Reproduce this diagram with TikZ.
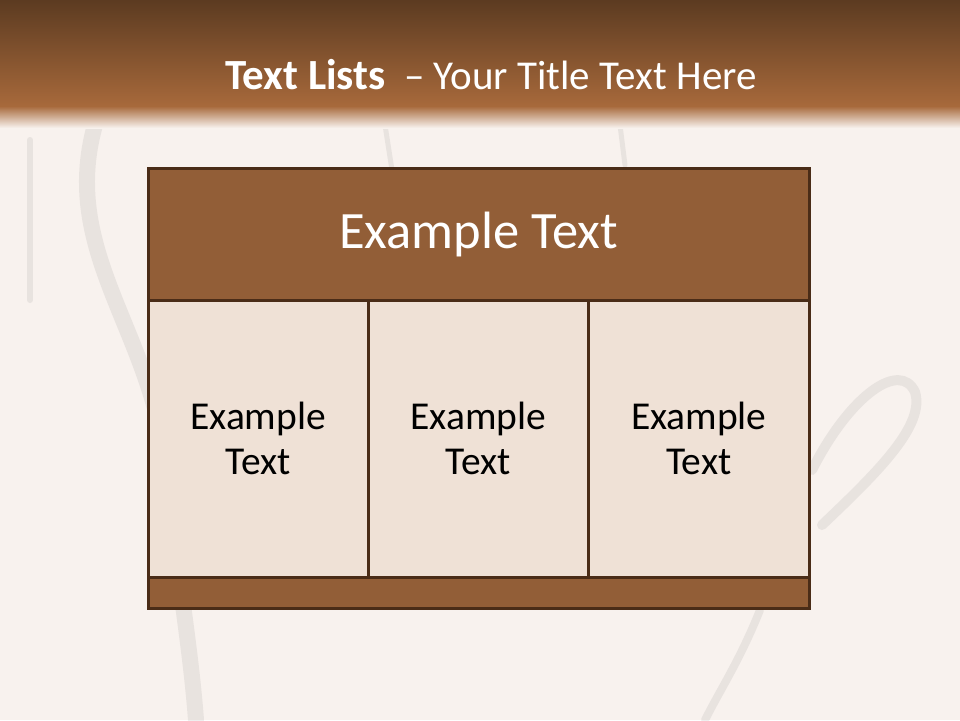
\documentclass[tikz,border=0pt]{standalone}
\usepackage{fontspec}
\setmainfont{Carlito}
\usetikzlibrary{positioning}
\definecolor{topdark}{HTML}{5C3B21}
\definecolor{topmid}{HTML}{A7693B}
\definecolor{bgcream}{HTML}{F8F2EE}
\definecolor{boxbrown}{HTML}{925E37}
\definecolor{cellfill}{HTML}{EFE1D6}
\definecolor{edgebrown}{HTML}{4A2C17}
\tikzset{
  grain/.style={gray, opacity=0.13, line cap=round},
  panel/.style={draw=edgebrown, line width=3, outer sep=0pt, inner sep=0pt},
  headbox/.style={panel, fill=boxbrown, text=white, font=\fontsize{52.5}{56}\selectfont},
  cellbox/.style={panel, fill=cellfill, align=center, minimum width=220.33, minimum height=277,
    font=\fontsize{39.5}{45}\selectfont}
}
\begin{document}
\begin{tikzpicture}[x=1pt, y=-1pt]
    \useasboundingbox (0,0) rectangle (960,720);
    % background and worn wood marks
    \fill[bgcream] (0,0) rectangle (960,720);
    \draw[grain, line width=16] (95,125) .. controls (60,250) and (150,330) .. (165,460) .. controls (175,560) and (190,640) .. (196,720);
    \draw[grain, line width=10] (812,470) .. controls (850,395) and (900,360) .. (915,392) .. controls (925,425) and (880,470) .. (822,525);
    \draw[grain, line width=6] (30,140) -- (30,300);
    \draw[grain, line width=5] (385,125) -- (392,170);
    \draw[grain, line width=5] (620,125) -- (625,165);
    \draw[grain, line width=8] (760,610) .. controls (740,660) and (720,690) .. (705,720);
    % title band
    \shade[top color=topdark, bottom color=topmid] (0,0) rectangle (960,106);
    \shade[top color=topmid, bottom color=bgcream] (0,106) rectangle (960,128);
    \node[text=white, font=\fontsize{41}{45}\selectfont] (title) at (491,75)
        {{\fontsize{43}{45}\selectfont\textbf{Text Lists}}\ \ – Your Title Text Here};
    % table
    \node[headbox, minimum width=661, minimum height=132] (head) at (478.5,234) {Example Text};
    \node[cellbox, below right=0pt and 0pt of head.south west] (c1) {Example\\Text};
    \node[cellbox, right=0pt of c1] (c2) {Example\\Text};
    \node[cellbox, right=0pt of c2] (c3) {Example\\Text};
    \node[panel, fill=boxbrown, minimum width=661, minimum height=31,
        below right=0pt and 0pt of c1.south west] (foot) {};
\end{tikzpicture}
\end{document}
